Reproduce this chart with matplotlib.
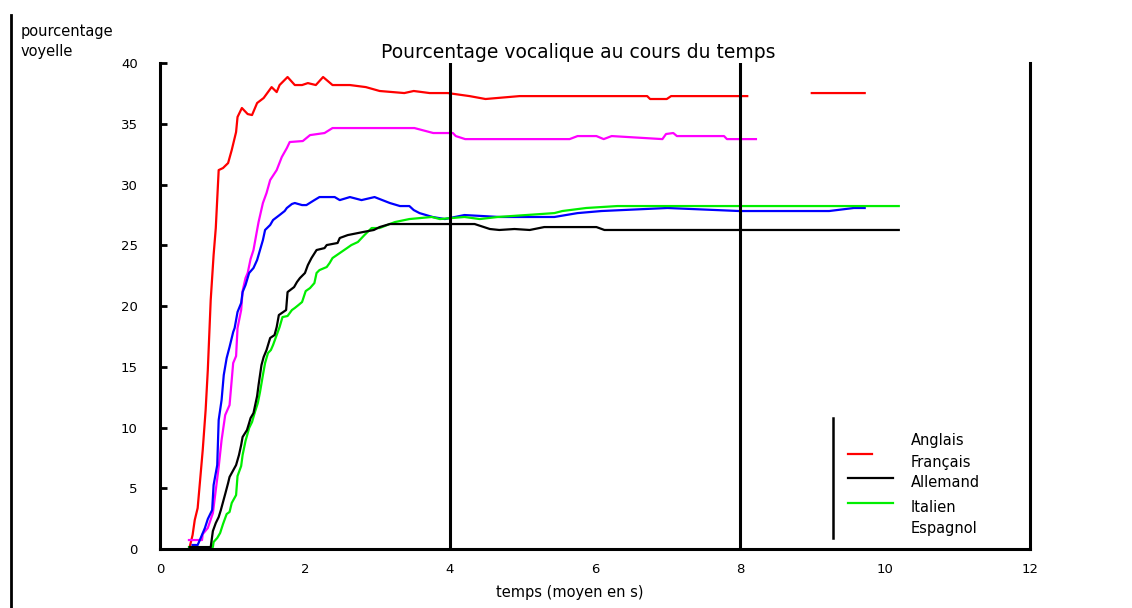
import numpy as np
import matplotlib
matplotlib.use("Agg")
import matplotlib.pyplot as plt
from matplotlib.lines import Line2D

nan = np.nan

# temps (s) / pourcentage vocalique pour chaque langue
t_fr = [0.41, 0.45, 0.48, 0.52, 0.56, 0.59, 0.63, 0.66, 0.70, 0.74, 0.77, 0.81, 0.87, 0.94, 0.99, 1.05, 1.07,
        1.13, 1.21, 1.27, 1.34, 1.43, 1.54, 1.61, 1.65, 1.76, 1.86, 1.96, 2.04, 2.15, 2.25, 2.38, 2.62, 2.84,
        3.03, 3.37, 3.50, 3.72, 3.97, 4.27, 4.49, 4.96, 6.06, 6.72, 6.76, 6.99, 7.05, 8.10, 8.50, 8.99, 9.72]
v_fr = [0.16, 1.15, 2.39, 3.37, 6.09, 8.15, 11.44, 14.73, 20.49, 24.20, 26.42, 31.19, 31.36, 31.77, 32.84,
        34.32, 35.56, 36.30, 35.80, 35.72, 36.71, 37.12, 38.02, 37.61, 38.19, 38.85, 38.19, 38.19, 38.35, 38.19,
        38.85, 38.19, 38.19, 38.02, 37.70, 37.53, 37.70, 37.53, 37.53, 37.28, 37.04, 37.28, 37.28, 37.28, 37.04,
        37.04, 37.28, 37.28, nan, 37.53, 37.53]

t_es = [0.40, 0.58, 0.59, 0.66, 0.73, 0.81, 0.85, 0.90, 0.96, 1.01, 1.05, 1.07, 1.12, 1.14, 1.18, 1.21, 1.25,
        1.29, 1.34, 1.36, 1.42, 1.47, 1.52, 1.61, 1.68, 1.75, 1.79, 1.97, 2.07, 2.27, 2.38, 2.59, 3.07, 3.51,
        3.77, 4.04, 4.08, 4.21, 5.65, 5.76, 6.02, 6.12, 6.23, 6.93, 6.98, 7.08, 7.13, 7.78, 7.82, 8.22]
v_es = [0.74, 0.74, 1.23, 1.73, 2.96, 6.75, 8.97, 11.03, 11.85, 15.31, 15.88, 18.19, 19.67, 21.23, 22.30,
        22.72, 23.87, 24.61, 26.26, 26.91, 28.48, 29.30, 30.37, 31.19, 32.26, 33.00, 33.50, 33.58, 34.07, 34.24,
        34.65, 34.65, 34.65, 34.65, 34.24, 34.24, 33.99, 33.74, 33.74, 33.99, 33.99, 33.74, 33.99, 33.74, 34.16,
        34.24, 33.99, 33.99, 33.74, 33.74]

t_en = [0.45, 0.52, 0.55, 0.62, 0.66, 0.72, 0.74, 0.79, 0.81, 0.85, 0.88, 0.92, 0.96, 1.01, 1.03, 1.07, 1.12,
        1.14, 1.18, 1.23, 1.29, 1.34, 1.36, 1.42, 1.45, 1.52, 1.56, 1.65, 1.72, 1.75, 1.82, 1.86, 1.96, 2.02,
        2.13, 2.20, 2.41, 2.48, 2.62, 2.78, 2.96, 3.17, 3.31, 3.44, 3.50, 3.58, 3.76, 3.93, 4.20, 4.68, 5.44,
        5.76, 6.09, 7.00, 7.99, 8.82, 9.23, 9.57, 9.72]
v_en = [0.33, 0.33, 0.74, 1.73, 2.47, 3.21, 5.27, 6.91, 10.62, 12.26, 14.32, 15.72, 16.63, 17.86, 18.19,
        19.51, 20.25, 21.15, 21.73, 22.72, 23.13, 23.79, 24.20, 25.43, 26.26, 26.67, 27.08, 27.49, 27.82, 28.07,
        28.40, 28.48, 28.31, 28.31, 28.72, 28.97, 28.97, 28.72, 28.97, 28.72, 28.97, 28.48, 28.23, 28.23, 27.90,
        27.65, 27.33, 27.16, 27.49, 27.33, 27.33, 27.65, 27.82, 28.07, 27.82, 27.82, 27.82, 28.07, 28.07]

t_de = [0.41, 0.70, 0.73, 0.77, 0.81, 0.84, 0.90, 0.94, 0.96, 1.05, 1.09, 1.12, 1.14, 1.20, 1.23, 1.25, 1.29,
        1.34, 1.36, 1.40, 1.43, 1.47, 1.52, 1.58, 1.61, 1.64, 1.74, 1.76, 1.85, 1.89, 1.93, 2.00, 2.04, 2.09,
        2.16, 2.27, 2.30, 2.45, 2.48, 2.59, 2.80, 2.95, 3.03, 3.17, 4.34, 4.55, 4.68, 4.89, 5.10, 5.30, 6.02,
        6.13, 10.19]
v_de = [0.16, 0.16, 1.48, 2.14, 2.63, 3.21, 4.53, 5.43, 5.93, 6.91, 7.74, 8.56, 9.22, 9.79, 10.37, 10.78,
        11.19, 12.59, 13.50, 15.14, 15.80, 16.38, 17.37, 17.61, 18.27, 19.26, 19.67, 21.15, 21.56, 21.98, 22.30,
        22.72, 23.37, 23.95, 24.61, 24.77, 25.02, 25.19, 25.60, 25.84, 26.09, 26.26, 26.50, 26.75, 26.75, 26.34,
        26.26, 26.34, 26.26, 26.50, 26.50, 26.26, 26.26]

t_it = [0.40, 0.73, 0.74, 0.79, 0.83, 0.87, 0.92, 0.96, 0.99, 1.05, 1.07, 1.12, 1.14, 1.18, 1.23, 1.27, 1.31,
        1.35, 1.38, 1.42, 1.45, 1.49, 1.53, 1.56, 1.60, 1.65, 1.69, 1.76, 1.82, 1.86, 1.91, 1.96, 2.01, 2.07,
        2.13, 2.16, 2.20, 2.30, 2.34, 2.38, 2.58, 2.64, 2.73, 2.82, 2.92, 3.03, 3.17, 3.24, 3.44, 3.75, 3.86,
        4.20, 4.41, 4.66, 5.44, 5.55, 5.88, 6.31, 10.19]
v_it = [0.16, 0.16, 0.58, 0.91, 1.32, 2.06, 2.88, 3.05, 3.79, 4.44, 6.01, 6.83, 7.74, 8.89, 9.96, 10.45, 11.28,
        12.02, 12.92, 14.32, 15.31, 16.13, 16.38, 16.79, 17.45, 18.27, 19.09, 19.18, 19.67, 19.84, 20.08, 20.33,
        21.23, 21.48, 21.89, 22.72, 22.96, 23.21, 23.54, 23.95, 24.77, 25.02, 25.27, 25.84, 26.42, 26.42, 26.75,
        26.91, 27.16, 27.33, 27.16, 27.33, 27.16, 27.33, 27.65, 27.82, 28.07, 28.23, 28.23]

langues = ["Anglais", "Français", "Allemand", "Italien", "Espagnol"]
xticks = [0, 2, 4, 6, 8, 10, 12]
yticks = [0, 5, 10, 15, 20, 25, 30, 35, 40]

fig = plt.figure(figsize=(11.32, 6.08), dpi=100)
ax = fig.add_axes([0.1413, 0.097, 0.7686, 0.7993])

lw = 1.6
ax.plot(t_fr, v_fr, color="#ff0000", lw=lw)
ax.plot(t_es, v_es, color="#ff00ff", lw=lw)
ax.plot(t_en, v_en, color="#0000ff", lw=lw)
ax.plot(t_it, v_it, color="#00ee00", lw=lw)
ax.plot(t_de, v_de, color="black", lw=lw)

for xv in (4, 8):
    ax.axvline(xv, color="black", lw=2.2)

ax.set_xlim(0, 12)
ax.set_ylim(0, 40)
ax.set_xticks(xticks)
ax.set_yticks(yticks)
ax.tick_params(axis="x", length=0, pad=10, labelsize=9.5)
ax.tick_params(axis="y", direction="in", length=5, width=2, pad=16, labelsize=9.5)
ax.spines["top"].set_visible(False)
for s in ("left", "right", "bottom"):
    ax.spines[s].set_linewidth(2.2)

# legende dessinee a la main
ax.plot([0.7736, 0.7736], [0.0226, 0.2695], color="black", lw=1.8, transform=ax.transAxes)
ax.plot([0.7908, 0.8184], [0.1955, 0.1955], color="#ff0000", lw=1.6, transform=ax.transAxes)
ax.plot([0.7908, 0.8425], [0.1461, 0.1461], color="black", lw=1.6, transform=ax.transAxes)
ax.plot([0.7908, 0.8425], [0.0947, 0.0947], color="#00ee00", lw=1.6, transform=ax.transAxes)
for name, yy in zip(langues, [0.2243, 0.179, 0.1379, 0.0864, 0.0432]):
    ax.text(0.863, yy, name, transform=ax.transAxes, fontsize=10.5, va="center", ha="left")

fig.text(0.511, 0.914, "Pourcentage vocalique au cours du temps", ha="center", va="center", fontsize=13.5)
fig.text(0.018, 0.949, "pourcentage", ha="left", va="center", fontsize=10.5)
fig.text(0.018, 0.915, "voyelle", ha="left", va="center", fontsize=10.5)
fig.text(0.503, 0.025, "temps (moyen en s)", ha="center", va="center", fontsize=10.5)

fig.add_artist(Line2D([0.0097, 0.0097], [0.0, 0.975], color="black", lw=2, transform=fig.transFigure))

fig.savefig("out.png", dpi=100)
